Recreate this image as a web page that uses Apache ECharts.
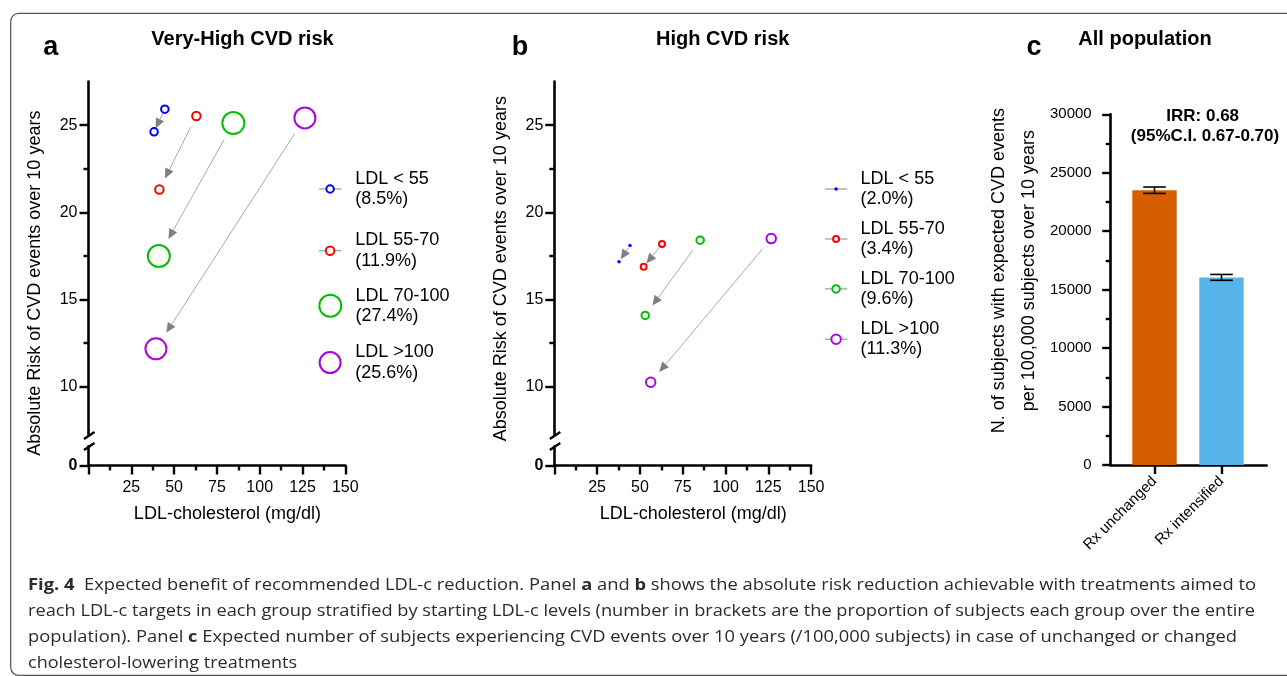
<!DOCTYPE html>
<html>
<head>
<meta charset="utf-8">
<title>Fig. 4 Expected benefit of recommended LDL-c reduction</title>
<script src="https://cdn.jsdelivr.net/npm/echarts@6/dist/echarts.min.js"></script>
<style>
  html, body { margin: 0; padding: 0; background: #fff; }
  #main { position: absolute; left: 0; top: 0; width: 1287px; height: 676px; }
  #caption { position: absolute; left: 28px; top: 571px; font-family: 'Open Sans', 'Noto Sans', sans-serif;
             font-size: 16.5px; line-height: 26px; color: #2b2b2b; }
  #caption div { white-space: nowrap; width: max-content; transform-origin: 0 0; }
</style>
</head>
<body>
<div id="main"></div>
<div id="caption">
  <div data-w="1228"><b>Fig. 4</b>&nbsp; Expected benefit of recommended LDL-c reduction. Panel <b>a</b> and <b>b</b> shows the absolute risk reduction achievable with treatments aimed to</div>
  <div data-w="1227">reach LDL-c targets in each group stratified by starting LDL-c levels (number in brackets are the proportion of subjects each group over the entire</div>
  <div data-w="1209">population). Panel <b>c</b> Expected number of subjects experiencing CVD events over 10 years (/100,000 subjects) in case of unchanged or changed</div>
  <div data-w="269">cholesterol-lowering treatments</div>
</div>
<script>
// groups of starting LDL-c
var groupNames = ['LDL < 55', 'LDL 55-70', 'LDL 70-100', 'LDL >100'];
var sharesVeryHigh = ['8.5%', '11.9%', '27.4%', '25.6%'];
var sharesHigh = ['2.0%', '3.4%', '9.6%', '11.3%'];

// very-high risk: LDL-c (mg/dl) and 10y risk (%) now -> at target
var veryHighLdlStart = [44.6, 63.0, 84.6, 126.4];
var veryHighRiskStart = [25.92, 25.53, 25.12, 25.42];
var veryHighLdlEnd = [38.3, 41.4, 41.1, 39.4];
var veryHighRiskEnd = [24.62, 21.31, 17.50, 12.18];

// high risk
var highLdlStart = [44.2, 62.9, 85.2, 126.7];
var highRiskStart = [18.10, 18.19, 18.41, 18.50];
var highLdlEnd = [37.8, 52.2, 53.1, 56.3];
var highRiskEnd = [17.17, 16.88, 14.09, 10.26];

var riskTickLabels = [10, 15, 20, 25];
var riskMinorTicks = [12.5, 17.5, 22.5];

// all population, events /100,000 over 10 years
var popCategories = ['Rx unchanged', 'Rx intensified'];
var popEvents = [23500, 16050];
var popLow = [23230, 15800];
var popHigh = [23780, 16300];
var irrLines = ['IRR: 0.68', '(95%C.I. 0.67-0.70)'];

// styles
var FONT = "'Liberation Sans', Arial, Helvetica, sans-serif";
var groupColors = ['#0000ff', '#ff0000', '#00bf00', '#aa00e6'];
var sizeVeryHigh = [7.5, 8.5, 22, 21];
var sizeHigh = [3.5, 6, 7.5, 9.5];
var symVeryHigh = ['emptyCircle', 'emptyCircle', 'emptyCircle', 'emptyCircle'];
var symHigh = ['circle', 'emptyCircle', 'emptyCircle', 'emptyCircle'];
var barColors = ['#d55e00', '#56b4e9'];
var AX = {color: '#000', width: 2.6};
var PX = 1.712, PY = 17.44;

var grids = [], xAxes = [], yAxes = [], series = [], legends = [], graphics = [];

function addPanel(p) {
  var gMain = grids.length;
  var w = 150 * PX;
  grids.push({left: p.left, top: 81.6, width: w, height: (27.5 - 7.25) * PY});
  grids.push({left: p.left, top: 81.6, width: w, height: (27.5 - 7.25) * PY});
  grids.push({left: p.left, top: 446.3, width: w, height: 1.1 * PY});

  var xMain = xAxes.length;
  xAxes.push({gridIndex: gMain, type: 'value', min: 0, max: 150, show: false});
  xAxes.push({gridIndex: gMain + 1, type: 'value', min: 0, max: 150, show: false});
  xAxes.push({
    gridIndex: gMain + 2, type: 'value', min: 0, max: 150, interval: 25,
    axisLine: {onZero: false, lineStyle: AX},
    axisTick: {length: 9, lineStyle: {color: '#000', width: 2.4}},
    minorTick: {show: true, splitNumber: 2, length: 5, lineStyle: {color: '#000', width: 2.4}},
    axisLabel: {fontSize: 16, color: '#000', margin: 14, fontFamily: FONT,
      formatter: function (v) { return v === 0 ? '' : v; }},
    splitLine: {show: false},
    name: 'LDL-cholesterol (mg/dl)', nameLocation: 'middle', nameGap: 40,
    nameTextStyle: {fontSize: 18, color: '#000', fontFamily: FONT, padding: [0, 0, 0, 21]}
  });

  var yMain = yAxes.length;
  yAxes.push({
    gridIndex: gMain, type: 'value', min: 7.25, max: 27.5,
    axisLine: {show: true, onZero: false, lineStyle: AX},
    axisTick: {customValues: riskTickLabels, length: 9, lineStyle: {color: '#000', width: 2.4}},
    axisLabel: {customValues: riskTickLabels, fontSize: 16, color: '#000', margin: 11, fontFamily: FONT},
    splitLine: {show: false},
    name: 'Absolute Risk of CVD events over 10 years', nameLocation: 'middle', nameGap: 44,
    nameTextStyle: {fontSize: 18, color: '#000', fontFamily: FONT, padding: [0, p.nameShift, 0, 0]}
  });
  yAxes.push({
    gridIndex: gMain + 1, type: 'value', min: 7.25, max: 27.5,
    axisLine: {show: false},
    axisTick: {show: true, customValues: riskMinorTicks, length: 5, lineStyle: {color: '#000', width: 2.4}},
    axisLabel: {show: false}, splitLine: {show: false}
  });
  yAxes.push({
    gridIndex: gMain + 2, type: 'value', min: 0, max: 1.1,
    axisLine: {onZero: false, lineStyle: AX},
    axisTick: {customValues: [0], length: 9, lineStyle: {color: '#000', width: 2.4}},
    axisLabel: {customValues: [0], fontSize: 16, fontWeight: 'bold', color: '#000', margin: 11, fontFamily: FONT},
    splitLine: {show: false}
  });

  // arrows from current LDL-c to target
  series.push({
    type: 'custom', xAxisIndex: xMain, yAxisIndex: yMain, silent: true, z: 2,
    data: p.x0.map(function (x, i) { return [x, p.y0[i], p.x1[i], p.y1[i]]; }),
    encode: {x: [0, 2], y: [1, 3]},
    renderItem: function (params, api) {
      var a = api.coord([api.value(0), api.value(1)]);
      var b = api.coord([api.value(2), api.value(3)]);
      var dx = b[0] - a[0], dy = b[1] - a[1];
      var d = Math.sqrt(dx * dx + dy * dy), ux = dx / d, uy = dy / d;
      var pad = Math.min(p.sizes[params.dataIndex] / 2 + 8.5, d * 0.15);
      var sx = a[0] + ux * pad, sy = a[1] + uy * pad;
      var tx = b[0] - ux * pad, ty = b[1] - uy * pad;
      var hl = 10, hw = 4.5;
      var bx = tx - ux * hl, by = ty - uy * hl;
      return {type: 'group', children: [
        {type: 'line', shape: {x1: sx, y1: sy, x2: bx, y2: by}, style: {stroke: '#a8a8a8', lineWidth: 1}},
        {type: 'polygon', shape: {points: [[tx, ty], [bx - uy * hw, by + ux * hw], [bx + uy * hw, by - ux * hw]]},
          style: {fill: '#808080'}}
      ]};
    }
  });

  for (var i = 0; i < groupNames.length; i++) {
    var name = groupNames[i] + ' (' + p.shares[i] + ')';
    series.push({
      type: 'line', name: name, xAxisIndex: xMain, yAxisIndex: yMain,
      data: [[p.x0[i], p.y0[i]], [p.x1[i], p.y1[i]]],
      color: groupColors[i],
      symbol: p.syms[i], symbolSize: p.sizes[i], showSymbol: true,
      lineStyle: {opacity: 0},
      itemStyle: {color: groupColors[i], borderWidth: p.sizes[i] > 15 ? 2.4 : 2},
      emphasis: {disabled: true}, silent: true, z: 3
    });
    legends.push({
      data: [name], left: p.legendLeft, top: p.legendY[i] - 20.5, padding: 0,
      itemWidth: 22.4, itemHeight: p.sizes[i] / 0.8, selectedMode: false,
      formatter: function (n) { return n.replace(' (', '\n('); },
      textStyle: {fontSize: 18, lineHeight: 20.5, color: '#000', fontFamily: FONT, padding: [0, 0, 0, p.textPad]},
      lineStyle: {color: '#9a9a9a', width: 1.2, opacity: 1}
    });
  }

  // axis break marks
  var ax = p.left;
  [[439, 432], [450, 443]].forEach(function (m) {
    graphics.push({type: 'line', silent: true,
      shape: {x1: ax - 4.5, y1: m[0], x2: ax + 6, y2: m[1]}, style: {stroke: '#000', lineWidth: 2.4}});
  });
}

addPanel({left: 88.5, x0: veryHighLdlStart, y0: veryHighRiskStart, x1: veryHighLdlEnd, y1: veryHighRiskEnd,
  sizes: sizeVeryHigh, syms: symVeryHigh, shares: sharesVeryHigh, nameShift: 50,
  legendLeft: 318.3, legendY: [189, 250.7, 305.8, 362.6], textPad: 9});
addPanel({left: 554.3, x0: highLdlStart, y0: highRiskStart, x1: highLdlEnd, y1: highRiskEnd,
  sizes: sizeHigh, syms: symHigh, shares: sharesHigh, nameShift: 21,
  legendLeft: 824.3, legendY: [189, 239, 288.9, 339.2], textPad: 8.3});

// panel c
var gC = grids.length;
grids.push({left: 1110.7, top: 114.3, width: 156, height: 350.7});
var xC = xAxes.length;
var catPos = popCategories.map(function (c, i) { return i + 1; });
xAxes.push({
  gridIndex: gC, type: 'value', min: 0.346, max: 2.675,
  axisLine: {onZero: false, lineStyle: AX},
  axisTick: {customValues: catPos, length: 9, lineStyle: {color: '#000', width: 2.4}},
  axisLabel: {customValues: catPos, rotate: 45, fontSize: 15, color: '#000', margin: 14, fontFamily: FONT,
    formatter: function (v) { return popCategories[Math.round(v) - 1]; }},
  splitLine: {show: false}
});
var yC = yAxes.length;
yAxes.push({
  gridIndex: gC, type: 'value', min: 0, max: 30000, interval: 5000,
  axisLine: {onZero: false, lineStyle: AX},
  axisTick: {length: 8.5, lineStyle: {color: '#000', width: 2.4}},
  minorTick: {show: true, splitNumber: 2, length: 5, lineStyle: {color: '#000', width: 2.4}},
  axisLabel: {fontSize: 15, color: '#000', margin: 19, fontFamily: FONT,
    formatter: function (v) { return String(v); }},
  splitLine: {show: false},
  name: 'N. of subjects with expected CVD events\nper 100,000 subjects over 10 years',
  nameLocation: 'middle', nameGap: 67,
  nameTextStyle: {fontSize: 18, lineHeight: 30, color: '#000', fontFamily: FONT, padding: [0, 0, 0, 38]}
});
series.push({
  type: 'bar', xAxisIndex: xC, yAxisIndex: yC, barWidth: 44.4, silent: true,
  data: popEvents.map(function (v, i) { return {value: [catPos[i], v], itemStyle: {color: barColors[i]}}; })
});
series.push({
  type: 'custom', xAxisIndex: xC, yAxisIndex: yC, silent: true, z: 3,
  data: popLow.map(function (lo, i) { return [catPos[i], lo, popHigh[i]]; }),
  encode: {x: 0, y: [1, 2]},
  renderItem: function (params, api) {
    var lo = api.coord([api.value(0), api.value(1)]);
    var hi = api.coord([api.value(0), api.value(2)]);
    var cw = 11.3, st = {stroke: '#000', lineWidth: 1.6};
    return {type: 'group', children: [
      {type: 'line', shape: {x1: lo[0], y1: lo[1], x2: hi[0], y2: hi[1]}, style: st},
      {type: 'line', shape: {x1: lo[0] - cw, y1: lo[1], x2: lo[0] + cw, y2: lo[1]}, style: st},
      {type: 'line', shape: {x1: hi[0] - cw, y1: hi[1], x2: hi[0] + cw, y2: hi[1]}, style: st}
    ]};
  }
});

graphics.push({type: 'text', silent: true, x: 1202.7, y: 116,
  style: {text: irrLines[0], fontSize: 17, fontWeight: 'bold', fontFamily: FONT, fill: '#000', align: 'center', verticalAlign: 'middle'}});
graphics.push({type: 'text', silent: true, x: 1205, y: 136.7,
  style: {text: irrLines[1], fontSize: 17, fontWeight: 'bold', fontFamily: FONT, fill: '#000', align: 'center', verticalAlign: 'middle'}});
// figure frame
graphics.push({type: 'rect', silent: true, z: -10, shape: {x: 10.7, y: 13.3, width: 1300, height: 662, r: 8},
  style: {fill: 'none', stroke: '#555', lineWidth: 1.2}});

function panelTitle(text, cx, cy, size) {
  return {text: text, left: cx, top: cy, textAlign: 'center', textVerticalAlign: 'middle', padding: 0,
    textStyle: {fontSize: size, fontWeight: 'bold', color: '#000', fontFamily: FONT}};
}

var chart = echarts.init(document.getElementById('main'));
chart.setOption({
  animation: false,
  backgroundColor: '#fff',
  title: [
    panelTitle('a', 50.7, 47.7, 27),
    panelTitle('Very-High CVD risk', 242.5, 39.6, 20),
    panelTitle('b', 520, 47.5, 27),
    panelTitle('High CVD risk', 722.7, 39.6, 20),
    panelTitle('c', 1034, 47.5, 27),
    panelTitle('All population', 1145, 39.3, 20)
  ],
  grid: grids,
  xAxis: xAxes,
  yAxis: yAxes,
  legend: legends,
  series: series,
  graphic: graphics
});

// fit caption lines to the printed line widths
document.querySelectorAll('#caption div').forEach(function (el) {
  var w = el.getBoundingClientRect().width;
  el.style.transform = 'scaleX(' + (parseFloat(el.getAttribute('data-w')) / w) + ')';
});
</script>
</body>
</html>
